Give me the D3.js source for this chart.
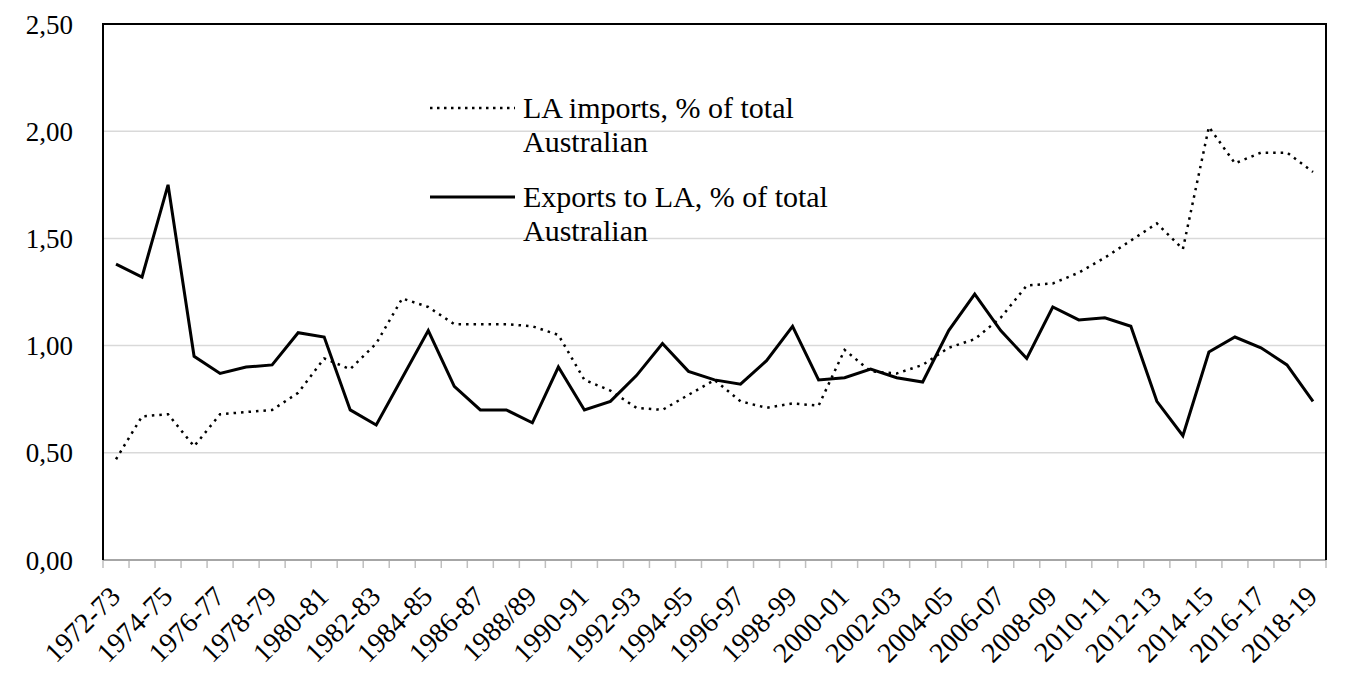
<!DOCTYPE html>
<html>
<head>
<meta charset="utf-8">
<script src="https://cdn.jsdelivr.net/npm/d3@7"></script>
<style>
  html, body { margin: 0; padding: 0; background: #fff; }
  svg { display: block; }
  text { font-family: "Liberation Serif", "Times New Roman", serif; fill: #000; }
</style>
</head>
<body>
<svg id="chart" width="1358" height="677"></svg>
<script>
const categories = [
  "1972-73","1973-74","1974-75","1975-76","1976-77","1977-78","1978-79","1979-80",
  "1980-81","1981-82","1982-83","1983-84","1984-85","1985-86","1986-87","1987-88",
  "1988/89","1989-90","1990-91","1991-92","1992-93","1993-94","1994-95","1995-96",
  "1996-97","1997-98","1998-99","1999-00","2000-01","2001-02","2002-03","2003-04",
  "2004-05","2005-06","2006-07","2007-08","2008-09","2009-10","2010-11","2011-12",
  "2012-13","2013-14","2014-15","2015-16","2016-17","2017-18","2018-19"
];

const importsLA = [
  0.47, 0.67, 0.68, 0.53, 0.68, 0.69, 0.70, 0.78, 0.94, 0.89,
  1.01, 1.22, 1.18, 1.10, 1.10, 1.10, 1.09, 1.05, 0.84, 0.79,
  0.71, 0.70, 0.77, 0.84, 0.74, 0.71, 0.73, 0.72, 0.98, 0.88,
  0.87, 0.91, 0.99, 1.03, 1.13, 1.28, 1.29, 1.34, 1.41, 1.49,
  1.57, 1.45, 2.02, 1.85, 1.90, 1.90, 1.81
];

const exportsLA = [
  1.38, 1.32, 1.75, 0.95, 0.87, 0.90, 0.91, 1.06, 1.04, 0.70,
  0.63, 0.85, 1.07, 0.81, 0.70, 0.70, 0.64, 0.90, 0.70, 0.74,
  0.86, 1.01, 0.88, 0.84, 0.82, 0.93, 1.09, 0.84, 0.85, 0.89,
  0.85, 0.83, 1.07, 1.24, 1.07, 0.94, 1.18, 1.12, 1.13, 1.09,
  0.74, 0.58, 0.97, 1.04, 0.99, 0.91, 0.74
];

const yTicks = [0, 0.5, 1.0, 1.5, 2.0, 2.5];
const yTickLabels = ["0,00", "0,50", "1,00", "1,50", "2,00", "2,50"];

const seriesNames = [
  ["LA imports, % of total", "Australian"],
  ["Exports to LA, % of total", "Australian"]
];

const svg = d3.select("#chart");
const pLeft = 103, pRight = 1326, pTop = 24, pBottom = 560;

const x = d3.scaleBand().domain(categories).range([pLeft, pRight]).padding(0);
const y = d3.scaleLinear().domain([0, 2.5]).range([pBottom, pTop]);
const cx = d => x(d) + x.bandwidth() / 2;

// gridlines
svg.append("g").selectAll("line")
  .data(yTicks.filter(v => v > 0 && v < 2.5))
  .join("line")
  .attr("x1", pLeft).attr("x2", pRight)
  .attr("y1", d => y(d)).attr("y2", d => y(d))
  .attr("stroke", "#d9d9d9").attr("stroke-width", 1.5);

// y axis labels
const yAxis = d3.axisLeft(y).tickValues(yTicks)
  .tickFormat((d, i) => yTickLabels[i]).tickSize(0).tickPadding(30);
const gy = svg.append("g").attr("transform", `translate(${pLeft},0)`).call(yAxis);
gy.attr("font-family", null);
gy.select(".domain").remove();
gy.selectAll("text").attr("font-size", 27).attr("font-family", "Liberation Serif")
  .attr("fill", "#000").attr("dy", "0.34em");

// x axis: ticks at category boundaries
const boundaries = d3.range(categories.length + 1).map(i => pLeft + i * x.bandwidth());
const gx = svg.append("g");
gx.selectAll("line.tick").data(boundaries).join("line")
  .attr("class", "tick")
  .attr("x1", d => d).attr("x2", d => d)
  .attr("y1", pBottom).attr("y2", pBottom + 8)
  .attr("stroke", "#bfbfbf").attr("stroke-width", 1.5);
gx.append("line").attr("x1", pLeft).attr("x2", pRight)
  .attr("y1", pBottom).attr("y2", pBottom)
  .attr("stroke", "#a6a6a6").attr("stroke-width", 2);

gx.selectAll("text").data(categories.filter((d, i) => i % 2 === 0)).join("text")
  .attr("transform", d => `translate(${cx(d) + 6},${pBottom + 38}) rotate(-45)`)
  .attr("text-anchor", "end")
  .attr("font-family", "Liberation Serif")
  .attr("font-size", 28)
  .text(d => d);

// frame (left, top, right)
svg.append("path")
  .attr("d", `M${pLeft},${pBottom} L${pLeft},${pTop} L${pRight},${pTop} L${pRight},${pBottom}`)
  .attr("fill", "none").attr("stroke", "#000").attr("stroke-width", 2);

// lines
const line = d3.line().x((d, i) => cx(categories[i])).y(d => y(d));

svg.append("path").datum(importsLA)
  .attr("d", line).attr("fill", "none")
  .attr("stroke", "#000").attr("stroke-width", 2.5)
  .attr("stroke-dasharray", "2.5 5");

svg.append("path").datum(exportsLA)
  .attr("d", line).attr("fill", "none")
  .attr("stroke", "#000").attr("stroke-width", 3)
  .attr("stroke-linejoin", "miter");

// legend
const legend = svg.append("g");
const legY = [108, 197];
legend.append("line").attr("x1", 430).attr("x2", 515).attr("y1", legY[0]).attr("y2", legY[0])
  .attr("stroke", "#000").attr("stroke-width", 2.5).attr("stroke-dasharray", "2.5 4.5");
legend.append("line").attr("x1", 430).attr("x2", 515).attr("y1", legY[1]).attr("y2", legY[1])
  .attr("stroke", "#000").attr("stroke-width", 3);
seriesNames.forEach((lines, k) => {
  const t = legend.append("text").attr("x", 523).attr("y", legY[k] + 10)
    .attr("font-family", "Liberation Serif").attr("font-size", 30);
  lines.forEach((s, j) => {
    t.append("tspan").attr("x", 523).attr("dy", j === 0 ? 0 : 34).text(s);
  });
});
</script>
</body>
</html>
